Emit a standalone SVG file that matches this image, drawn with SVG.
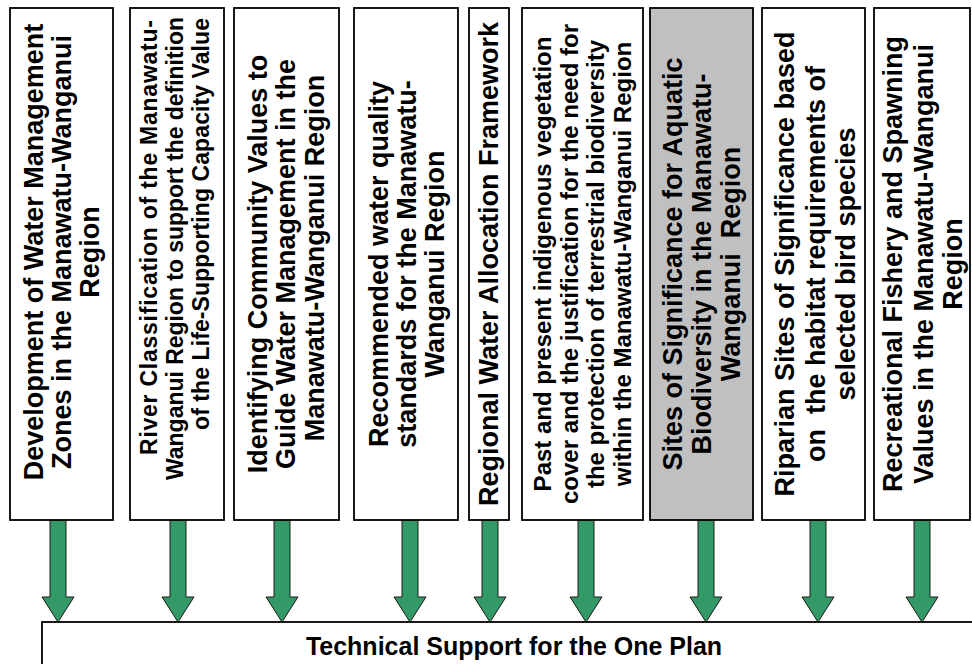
<svg xmlns="http://www.w3.org/2000/svg" xmlns:xlink="http://www.w3.org/1999/xlink" width="972" height="664" viewBox="0 0 972 664">
<style>
.box{fill:#ffffff;stroke:#000000;stroke-width:1.8}
.gray{fill:#c0c0c0}
.t{font-family:"Liberation Sans",Arial,sans-serif;font-weight:bold;font-size:27px;fill:#000000}
.s24{font-size:24px}
.s23{font-size:23px}
.arr{fill:#339966;stroke:#1a1a1a;stroke-width:1}
</style>
<defs>
<path id="arrow" d="M-8,0 H8 V77 H16 L0,102 L-16,77 H-8 Z"/>
</defs>
<rect x="0" y="0" width="972" height="664" fill="#ffffff"/>
<g id="connectors" class="arr">
<use xlink:href="#arrow" x="58" y="520"/>
<use xlink:href="#arrow" x="178" y="520"/>
<use xlink:href="#arrow" x="282" y="520"/>
<use xlink:href="#arrow" x="410" y="520"/>
<use xlink:href="#arrow" x="490" y="520"/>
<use xlink:href="#arrow" x="586" y="520"/>
<use xlink:href="#arrow" x="706" y="520"/>
<use xlink:href="#arrow" x="818" y="520"/>
<use xlink:href="#arrow" x="922" y="520"/>
</g>
<g id="n1">
<rect class="box" x="10" y="8" width="103" height="512"/>
<g class="t" transform="rotate(-90)" text-anchor="middle">
<text x="-252" y="42.5">Development of Water Management</text>
<text x="-252" y="70.5">Zones in the Manawatu-Wanganui</text>
<text x="-252" y="98.5">Region</text>
</g>
</g>
<g id="n2">
<rect class="box" x="130" y="8" width="94" height="512"/>
<g class="t s23" transform="rotate(-90)">
<text x="-455" y="157" textLength="435" lengthAdjust="spacing">River Classification of the Manawatu-</text>
<text x="-480" y="183" textLength="463" lengthAdjust="spacing">Wanganui Region to support the definition</text>
<text x="-430" y="209" textLength="412" lengthAdjust="spacing">of the Life-Supporting Capacity Value</text>
</g>
</g>
<g id="n3">
<rect class="box" x="234" y="8" width="105" height="512"/>
<g class="t" transform="rotate(-90)" text-anchor="middle">
<text x="-264" y="266.5">Identifying Community Values to</text>
<text x="-264" y="295">Guide Water Management in the</text>
<text x="-258" y="323.5">Manawatu-Wanganui Region</text>
</g>
</g>
<g id="n4">
<rect class="box" x="354" y="8" width="104" height="512"/>
<g class="t" transform="rotate(-90)" text-anchor="middle">
<text x="-264" y="387.5">Recommended water quality</text>
<text x="-264" y="415.5">standards for the Manawatu-</text>
<text x="-264" y="443.5">Wanganui Region</text>
</g>
</g>
<g id="n5">
<rect class="box" x="469" y="8" width="40" height="512"/>
<g class="t" transform="rotate(-90)" text-anchor="middle">
<text x="-264" y="498">Regional Water Allocation Framework</text>
</g>
</g>
<g id="n6">
<rect class="box" x="522" y="8" width="121" height="512"/>
<g class="t s24" transform="rotate(-90)" text-anchor="middle">
<text x="-264" y="551">Past and present indigenous vegetation</text>
<text x="-264" y="577.5">cover and the justification for the need for</text>
<text x="-264" y="604">the protection of terrestrial biodiversity</text>
<text x="-264" y="630.5">within the Manawatu-Wanganui Region</text>
</g>
</g>
<g id="n7">
<rect class="box gray" x="650" y="8" width="103" height="512"/>
<g class="t" transform="rotate(-90)" text-anchor="middle">
<text x="-264" y="682">Sites of Significance for Aquatic</text>
<text x="-264" y="711">Biodiversity in the Manawatu-</text>
<text x="-264" y="740" xml:space="preserve">Wanganui  Region</text>
</g>
</g>
<g id="n8">
<rect class="box" x="762" y="8" width="103" height="512"/>
<g class="t" transform="rotate(-90)" text-anchor="middle">
<text x="-264" y="794">Riparian Sites of Significance based</text>
<text x="-264" y="824.5" xml:space="preserve">on  the habitat requirements of</text>
<text x="-264" y="855">selected bird species</text>
</g>
</g>
<g id="n9">
<rect class="box" x="874" y="8" width="96" height="512"/>
<g class="t" transform="rotate(-90)" text-anchor="middle">
<text x="-264" y="902">Recreational Fishery and Spawning</text>
<text x="-264" y="932.5">Values in the Manawatu-Wanganui</text>
<text x="-264" y="962">Region</text>
</g>
</g>
<g id="n10">
<rect class="box" x="42" y="622" width="960" height="80"/>
<text class="t" x="514" y="655" style="font-size:25px" text-anchor="middle">Technical Support for the One Plan</text>
</g>
</svg>
